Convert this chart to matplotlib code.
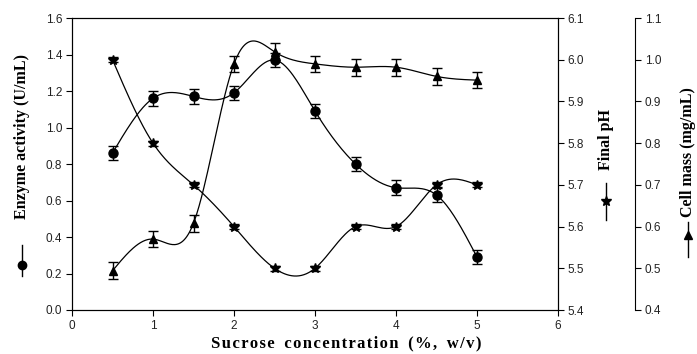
import numpy as np
import matplotlib.pyplot as plt
from matplotlib.lines import Line2D

# sucrose concentration (%, w/v)
sucrose = [0.5, 1.0, 1.5, 2.0, 2.5, 3.0, 3.5, 4.0, 4.5, 5.0]

# enzyme activity (U/mL)
enzyme = [0.86, 1.16, 1.17, 1.19, 1.37, 1.09, 0.80, 0.67, 0.63, 0.29]
enzyme_err = [0.04, 0.04, 0.04, 0.04, 0.04, 0.04, 0.04, 0.04, 0.04, 0.04]

# final pH
ph = [6.00, 5.80, 5.70, 5.60, 5.50, 5.50, 5.60, 5.60, 5.70, 5.70]
ph_err = [0.006, 0.006, 0.006, 0.006, 0.006, 0.006, 0.006, 0.006, 0.006, 0.006]

# cell mass (mg/mL)
cell = [0.494, 0.570, 0.608, 0.990, 1.019, 0.990, 0.982, 0.982, 0.960, 0.951]
cell_err = [0.02, 0.02, 0.02, 0.02, 0.02, 0.02, 0.02, 0.02, 0.02, 0.02]

W, H = 697, 354


def px(x, y):
    return x / W, 1 - y / H


# natural cubic spline for the smooth connecting curves
def spline(x, y, n=300):
    x = np.asarray(x, float)
    y = np.asarray(y, float)
    k = len(x)
    h = np.diff(x)
    A = np.zeros((k, k))
    b = np.zeros(k)
    A[0, 0] = 1
    A[-1, -1] = 1
    for i in range(1, k - 1):
        A[i, i - 1] = h[i - 1]
        A[i, i] = 2 * (h[i - 1] + h[i])
        A[i, i + 1] = h[i]
        b[i] = 6 * ((y[i + 1] - y[i]) / h[i] - (y[i] - y[i - 1]) / h[i - 1])
    M = np.linalg.solve(A, b)
    xs = np.linspace(x[0], x[-1], n)
    idx = np.clip(np.searchsorted(x, xs) - 1, 0, k - 2)
    x0, x1 = x[idx], x[idx + 1]
    hh = x1 - x0
    t0 = x1 - xs
    t1 = xs - x0
    ys = (M[idx] * t0**3 + M[idx + 1] * t1**3) / (6 * hh) \
        + (y[idx] / hh - M[idx] * hh / 6) * t0 \
        + (y[idx + 1] / hh - M[idx + 1] * hh / 6) * t1
    return xs, ys


tick_font = {'family': 'Liberation Sans', 'size': 8.5}
label_font = {'family': 'Liberation Serif', 'weight': 'bold', 'size': 11.5}

fig = plt.figure(figsize=(W / 100, H / 100), dpi=100)
l, bt = px(72, 310)
ax = fig.add_axes([l, bt, 486 / W, 292 / H])
ax2 = ax.twinx()
ax3 = ax.twinx()

err_kw = dict(ls='none', color='black', ecolor='black', elinewidth=1,
              capsize=3.3, capthick=1)

# enzyme activity
xs, ys = spline(sucrose, enzyme)
ax.plot(xs, ys, color='black', lw=0.9)
ax.errorbar(sucrose, enzyme, yerr=enzyme_err, marker='o', ms=6.5, **err_kw)

# final pH
xs, ys = spline(sucrose, ph)
ax2.plot(xs, ys, color='black', lw=0.9)
ax2.errorbar(sucrose, ph, yerr=ph_err, marker='*', ms=7, **err_kw)

# cell mass
xs, ys = spline(sucrose, cell)
ax3.plot(xs, ys, color='black', lw=0.9)
ax3.errorbar(sucrose, cell, yerr=cell_err, marker='^', ms=6, **err_kw)

ax.set_xlim(0, 6)
ax.set_ylim(0, 1.6)
ax.set_xticks(range(0, 7))
ax.set_yticks(np.arange(0, 1.61, 0.2))
ax.set_yticklabels([f'{v:.1f}' for v in np.arange(0, 1.61, 0.2)])
ax2.set_ylim(5.4, 6.1)
ax2.set_yticks(np.arange(5.4, 6.11, 0.1))
ax2.set_yticklabels([f'{v:.1f}' for v in np.arange(5.4, 6.11, 0.1)])
ax3.set_ylim(0.4, 1.1)
ax3.set_yticks(np.arange(0.4, 1.11, 0.1))
ax3.set_yticklabels([f'{v:.1f}' for v in np.arange(0.4, 1.11, 0.1)])

ax3.spines['right'].set_position(('axes', (635 - 72) / 486))
for s in ['top', 'left', 'bottom']:
    ax3.spines[s].set_visible(False)

for a in [ax, ax2, ax3]:
    a.tick_params(direction='out', length=4, width=0.8, pad=3, colors='black')
    for lab in a.get_xticklabels() + a.get_yticklabels():
        lab.set_fontfamily(tick_font['family'])
        lab.set_fontsize(tick_font['size'])
        lab.set_color('#222222')
    for s in a.spines.values():
        s.set_linewidth(0.8)

# axis labels with their series symbols
xlabel = '\u200a'.join('Sucrose concentration (%, w/v)').replace(' \u200a', '  ')
fig.text(*px(346, 343), xlabel, ha='center', va='center', fontsize=12,
         family=['Liberation Serif', 'DejaVu Serif'], weight='bold')

fig.text(*px(22, 137), 'Enzyme activity (U/mL)', rotation=90, ha='center',
         va='center', **label_font)
fig.add_artist(Line2D(*zip(px(22, 245), px(22, 276)), color='black', lw=1,
                      transform=fig.transFigure))
fig.add_artist(Line2D(*zip(px(22, 265)), marker='o', ms=6, color='black',
                      transform=fig.transFigure))

fig.text(*px(606, 140), 'Final pH', rotation=90, ha='center', va='center',
         **label_font)
fig.add_artist(Line2D(*zip(px(606, 183), px(606, 220)), color='black', lw=1,
                      transform=fig.transFigure))
fig.add_artist(Line2D(*zip(px(606, 201)), marker='*', ms=7, color='black',
                      transform=fig.transFigure))

fig.text(*px(688, 152), 'Cell mass (mg/mL)', rotation=90, ha='center',
         va='center', **label_font)
fig.add_artist(Line2D(*zip(px(688, 222), px(688, 257)), color='black', lw=1,
                      transform=fig.transFigure))
fig.add_artist(Line2D(*zip(px(688, 235)), marker='^', ms=6, color='black',
                      transform=fig.transFigure))

fig.savefig('out.png', dpi=100)
